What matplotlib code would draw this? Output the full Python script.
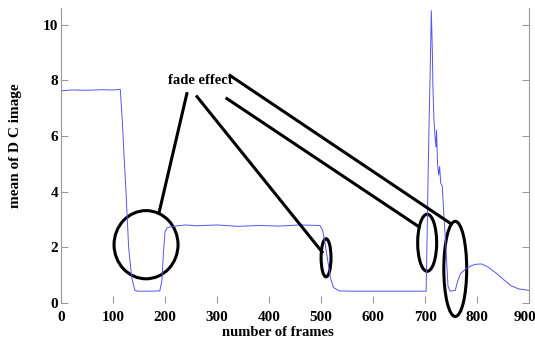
import matplotlib
matplotlib.use('Agg')
import matplotlib.pyplot as plt
from matplotlib.patches import Ellipse
from matplotlib.transforms import ScaledTranslation

# mean of DC image per frame
frames = [0, 20, 50, 80, 100, 114, 118, 122, 125, 130, 136, 142, 148, 170, 190,
          194, 197, 200, 204, 215, 240, 260, 300, 340, 380, 420, 460, 498,
          503, 508, 513, 518, 524, 535, 560, 650, 702,
          704, 706, 708, 710, 712, 714, 715, 717, 719, 721, 722, 724, 726, 728,
          730, 733, 736, 740, 744, 748, 758, 763, 768, 780, 795, 808, 820, 838,
          850, 865, 880, 900]
dc_mean = [7.62, 7.65, 7.64, 7.66, 7.65, 7.67, 6.5, 5.0, 4.0, 2.0, 0.9, 0.45, 0.42, 0.42, 0.43,
           0.8, 1.8, 2.55, 2.7, 2.75, 2.8, 2.77, 2.8, 2.75, 2.78, 2.76, 2.8, 2.78,
           2.6, 2.1, 1.5, 0.9, 0.55, 0.43, 0.42, 0.42, 0.42,
           2.5, 4.8, 6.8, 8.5, 10.5, 9.0, 7.8, 6.6, 6.0, 5.6, 6.2, 5.0, 4.6, 4.9,
           4.3, 4.2, 3.2, 2.0, 0.6, 0.42, 0.45, 0.8, 1.05, 1.25, 1.38, 1.4, 1.3, 1.05,
           0.85, 0.62, 0.5, 0.45]

xticks = [0, 100, 200, 300, 400, 500, 600, 700, 800, 900]
yticks = [0, 2, 4, 6, 8, 10]

# annotation: label, ellipses (cx, cy, w, h) and pointer lines
label = 'fade effect'
label_pos = (267, 8.0)
ellipses = [(163.5, 2.09, 123, 2.45), (509.6, 1.62, 19, 1.37),
            (704, 2.16, 36.5, 2.05), (758, 1.22, 44, 3.42)]
pointers = [((242, 7.52), (188.5, 3.24)), ((261.5, 7.41), (502, 1.83)),
            ((319, 7.34), (688.5, 2.73)), ((325, 8.17), (750, 2.84))]

plt.rcParams['font.family'] = ['Liberation Serif', 'DejaVu Serif']
plt.rcParams['font.weight'] = 'bold'

fig = plt.figure(figsize=(5.35, 3.43), dpi=100)
ax = fig.add_axes([0.114, 0.117, 0.875, 0.860])

ax.plot(frames, dc_mean, color='#5555ee', lw=0.7)

for cx, cy, w, h in ellipses:
    ax.add_patch(Ellipse((cx, cy), w, h, fill=False, ec='black', lw=2.2, clip_on=False))
for (x0, y0), (x1, y1) in pointers:
    ax.plot([x0, x1], [y0, y1], color='black', lw=2.2, clip_on=False)
ax.text(label_pos[0], label_pos[1], label, ha='center', va='center',
        fontsize=10.5, fontweight='bold')

ax.set_xlim(0, 900)
ax.set_ylim(0, 10.6)
ax.set_xticks(xticks)
ax.set_yticks(yticks)
ax.tick_params(axis='both', direction='in', length=5, color='#999999',
               labelsize=11, right=True)
ax.tick_params(axis='x', pad=6)
ax.tick_params(axis='y', pad=2)
for lab in ax.get_xticklabels() + ax.get_yticklabels():
    lab.set_fontweight('bold')
# last x label sits against the right edge
last = ax.get_xticklabels()[-1]
last.set_transform(last.get_transform() + ScaledTranslation(-4 / 100, 0, fig.dpi_scale_trans))

for s in ['top', 'bottom']:
    ax.spines[s].set_visible(False)
for s in ['left', 'right']:
    ax.spines[s].set_color('#999999')

ax.set_xlabel('number of frames', fontsize=10.5, fontweight='bold')
ax.set_ylabel('mean of D C image', fontsize=11, fontweight='bold')
ax.xaxis.set_label_coords(0.464, -0.077)
ax.yaxis.set_label_coords(-0.083, 0.532)

fig.savefig('out.png', dpi=100)
